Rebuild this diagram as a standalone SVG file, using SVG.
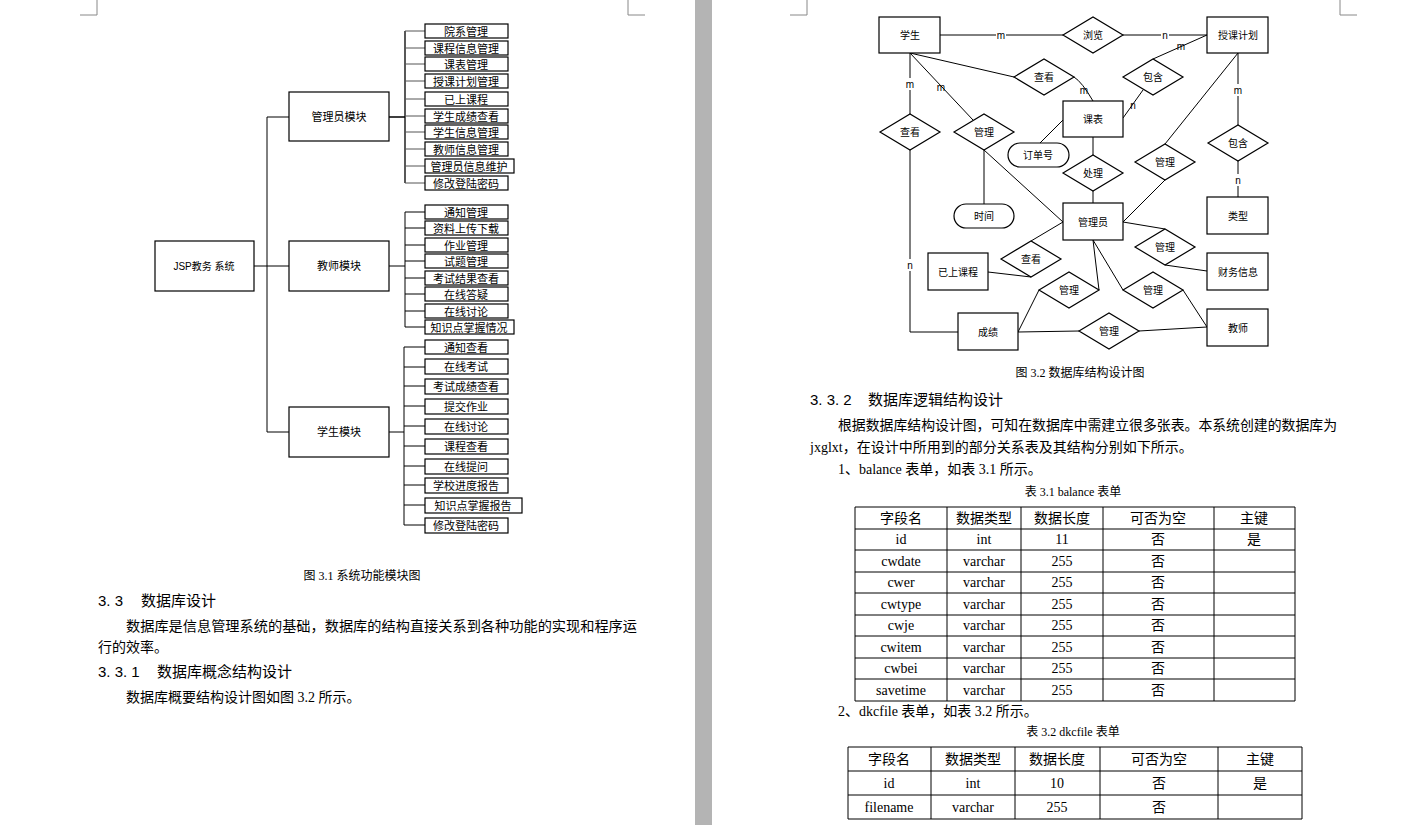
<svg xmlns="http://www.w3.org/2000/svg" width="1405" height="825" viewBox="0 0 1405 825">
<style>
.b{fill:#fff;stroke:#000;stroke-width:1.2}
.l{fill:none;stroke:#000;stroke-width:1}
.t{font-family:"Liberation Sans","Noto Sans CJK SC",sans-serif;font-size:11px;text-anchor:middle;dominant-baseline:central;fill:#000}
.s{font-family:"Liberation Sans","Noto Sans CJK SC",sans-serif;font-size:10px;text-anchor:middle;dominant-baseline:central;fill:#000}
.p{font-family:"Liberation Serif","Noto Sans CJK SC",serif;font-size:14px;fill:#000}
.h{font-family:"Liberation Sans","Noto Sans CJK SC",sans-serif;font-size:15px;fill:#000}
.c{font-family:"Liberation Serif","Noto Sans CJK SC",serif;font-size:12px;text-anchor:middle;fill:#000}
.td{font-family:"Liberation Serif","Noto Sans CJK SC",serif;font-size:14px;text-anchor:middle;dominant-baseline:central;fill:#000}
.g{fill:none;stroke:#888;stroke-width:1}
.lb{fill:#fff;stroke:none}
</style>
<rect width="1405" height="825" fill="#fff"/>
<rect x="695" y="0" width="17" height="825" fill="#b4b4b4"/>
<path class="g" d="M80 15H97V0M645 15H628V0M790 15H807V0M1357 15H1340V0"/>

<g id="tree-connectors" class="l">
<path d="M254 266H289M267 117V432M267 117H289M267 432H289"/>
<path d="M389 117H405M405 31V183" stroke-width="1.3"/>
<path d="M405 31H425M405 48H425M405 64H425M405 81H425M405 99H425M405 116H425M405 132H425M405 149H425M405 166H425M405 183H425" stroke="#555"/>
<path d="M389 266H405M405 212V327"/>
<path d="M405 212H425M405 228H425M405 245H425M405 261H425M405 278H425M405 294H425M405 311H425M405 327H425"/>
<path d="M389 432H404M404 347V525"/>
<path d="M404 347H425M404 367H425M404 386H425M404 406H425M404 426H425M404 446H425M404 466H425M404 485H425M404 505H425M404 525H425"/>
</g>
<g id="root"><rect class="b" x="155" y="241" width="99" height="50"/><text class="s" x="204" y="266">JSP教务 系统</text></g>
<g id="admin"><rect class="b" x="289" y="92" width="100" height="49"/><text class="t" x="339" y="117">管理员模块</text></g>
<g id="teacher"><rect class="b" x="289" y="241" width="100" height="50"/><text class="t" x="339" y="266">教师模块</text></g>
<g id="student"><rect class="b" x="289" y="407" width="100" height="50"/><text class="t" x="339" y="432">学生模块</text></g>
<g id="admin-leaves">
<rect class="b" x="425" y="24" width="83" height="14"/><text class="t" x="466" y="31.5">院系管理</text>
<rect class="b" x="425" y="41" width="83" height="14"/><text class="t" x="466" y="48.5">课程信息管理</text>
<rect class="b" x="425" y="57" width="83" height="14"/><text class="t" x="466" y="64.5">课表管理</text>
<rect class="b" x="425" y="74" width="83" height="14"/><text class="t" x="466" y="81.5">授课计划管理</text>
<rect class="b" x="425" y="92" width="83" height="14"/><text class="t" x="466" y="99.5">已上课程</text>
<rect class="b" x="425" y="109" width="83" height="14"/><text class="t" x="466" y="116.5">学生成绩查看</text>
<rect class="b" x="425" y="125" width="83" height="14"/><text class="t" x="466" y="132.5">学生信息管理</text>
<rect class="b" x="425" y="142" width="83" height="14"/><text class="t" x="466" y="149.5">教师信息管理</text>
<rect class="b" x="425" y="159" width="89" height="14"/><text class="t" x="469" y="166.5">管理员信息维护</text>
<rect class="b" x="425" y="176" width="83" height="14"/><text class="t" x="466" y="183.5">修改登陆密码</text>
</g>
<g id="teacher-leaves">
<rect class="b" x="425" y="205" width="83" height="14"/><text class="t" x="466" y="212.5">通知管理</text>
<rect class="b" x="425" y="221" width="83" height="14"/><text class="t" x="466" y="228.5">资料上传下载</text>
<rect class="b" x="425" y="238" width="83" height="14"/><text class="t" x="466" y="245.5">作业管理</text>
<rect class="b" x="425" y="254" width="83" height="14"/><text class="t" x="466" y="261.5">试题管理</text>
<rect class="b" x="425" y="271" width="83" height="14"/><text class="t" x="466" y="278.5">考试结果查看</text>
<rect class="b" x="425" y="287" width="83" height="14"/><text class="t" x="466" y="294.5">在线答疑</text>
<rect class="b" x="425" y="304" width="83" height="14"/><text class="t" x="466" y="311.5">在线讨论</text>
<rect class="b" x="425" y="320" width="89" height="14"/><text class="t" x="469" y="327.5">知识点掌握情况</text>
</g>
<g id="student-leaves">
<rect class="b" x="425" y="340" width="83" height="14"/><text class="t" x="466" y="347.5">通知查看</text>
<rect class="b" x="425" y="359" width="83" height="15"/><text class="t" x="466" y="367">在线考试</text>
<rect class="b" x="425" y="379" width="83" height="15"/><text class="t" x="466" y="386.5">考试成绩查看</text>
<rect class="b" x="425" y="399" width="83" height="15"/><text class="t" x="466" y="406.5">提交作业</text>
<rect class="b" x="425" y="419" width="83" height="15"/><text class="t" x="466" y="426.5">在线讨论</text>
<rect class="b" x="425" y="439" width="83" height="15"/><text class="t" x="466" y="446.5">课程查看</text>
<rect class="b" x="425" y="459" width="83" height="15"/><text class="t" x="466" y="466.5">在线提问</text>
<rect class="b" x="425" y="478" width="83" height="15"/><text class="t" x="466" y="485.5">学校进度报告</text>
<rect class="b" x="425" y="498" width="97" height="15"/><text class="t" x="473" y="505.5">知识点掌握报告</text>
<rect class="b" x="425" y="518" width="83" height="15"/><text class="t" x="466" y="525.5">修改登陆密码</text>
</g>

<g id="left-text">
<text class="c" x="362" y="580">图 3.1  系统功能模块图</text>
<text class="h" x="98" y="606">3. 3</text><text class="h" x="141" y="606">数据库设计</text>
<text class="p" x="126" y="631" textLength="511" lengthAdjust="spacingAndGlyphs">数据库是信息管理系统的基础，数据库的结构直接关系到各种功能的实现和程序运</text>
<text class="p" x="98" y="652">行的效率。</text>
<text class="h" x="98" y="677">3. 3. 1</text><text class="h" x="157" y="677">数据库概念结构设计</text>
<text class="p" x="126" y="702">数据库概要结构设计图如图 3.2 所示。</text>
</g>

<g id="er-connectors" class="l">
<path d="M940 35H1063M1123 35H1207"/>
<path d="M1207 35L1153 59M1143 90L1123 118"/>
<path d="M910 53L1014 77M1074 77Q1082 82 1093 101"/>
<path d="M910 53V114M910 150V332H958"/>
<path d="M910 53L973 120M984 150V204M984 150L1063 222"/>
<path d="M1063 120L1040 143"/>
<path d="M1093 137V155M1093 191V203"/>
<path d="M1238 53V125M1238 161V197"/>
<path d="M1238 53L1165 144M1165 180L1123 222"/>
<path d="M1123 222L1165 229M1165 265L1207 271"/>
<path d="M1063 222L1031 241M1031 277L988 272"/>
<path d="M1093 240L1099 290M1039 290L1018 332"/>
<path d="M1093 240L1123 290M1183 290L1207 327"/>
<path d="M1018 332L1079 331M1139 331L1207 327"/>
</g>
<g id="er-labels">
<rect class="lb" x="996" y="29" width="10" height="12"/><text class="s" x="1001" y="35">m</text>
<rect class="lb" x="1161" y="29" width="8" height="12"/><text class="s" x="1165" y="35">n</text>
<text class="s" x="1181" y="46">m</text>
<text class="s" x="1133" y="105">n</text>
<text class="s" x="1084" y="90">m</text>
<rect class="lb" x="905" y="78" width="10" height="12"/><text class="s" x="910" y="84">m</text>
<text class="s" x="941" y="87">m</text>
<rect class="lb" x="906" y="259" width="8" height="12"/><text class="s" x="910" y="265">n</text>
<rect class="lb" x="1233" y="84" width="10" height="12"/><text class="s" x="1238" y="90">m</text>
<rect class="lb" x="1234" y="174" width="8" height="12"/><text class="s" x="1238" y="180">n</text>
</g>
<g id="e-student"><rect class="b" x="879" y="17" width="61" height="36"/><text class="s" x="910" y="35">学生</text></g>
<g id="e-plan"><rect class="b" x="1207" y="17" width="61" height="36"/><text class="s" x="1238" y="35">授课计划</text></g>
<g id="e-course"><rect class="b" x="1063" y="101" width="60" height="36"/><text class="s" x="1093" y="119">课表</text></g>
<g id="e-admin"><rect class="b" x="1063" y="203" width="60" height="37"/><text class="s" x="1093" y="222">管理员</text></g>
<g id="e-type"><rect class="b" x="1207" y="197" width="61" height="37"/><text class="s" x="1238" y="216">类型</text></g>
<g id="e-taken"><rect class="b" x="928" y="253" width="60" height="37"/><text class="s" x="958" y="272">已上课程</text></g>
<g id="e-finance"><rect class="b" x="1207" y="253" width="61" height="37"/><text class="s" x="1238" y="272">财务信息</text></g>
<g id="e-score"><rect class="b" x="958" y="313" width="60" height="37"/><text class="s" x="988" y="332">成绩</text></g>
<g id="e-teacher"><rect class="b" x="1207" y="309" width="61" height="37"/><text class="s" x="1238" y="328">教师</text></g>
<g id="a-order"><rect class="b" x="1008" y="143" width="61" height="24" rx="12"/><text class="s" x="1038" y="155">订单号</text></g>
<g id="a-time"><rect class="b" x="954" y="204" width="60" height="24" rx="12"/><text class="s" x="984" y="216">时间</text></g>
<g id="r-browse"><path class="b" d="M1063 35L1093 17L1123 35L1093 53Z"/><text class="s" x="1093" y="35">浏览</text></g>
<g id="r-view1"><path class="b" d="M1014 77L1044 59L1074 77L1044 95Z"/><text class="s" x="1044" y="77">查看</text></g>
<g id="r-contain1"><path class="b" d="M1123 77L1153 59L1183 77L1153 95Z"/><text class="s" x="1153" y="77">包含</text></g>
<g id="r-view2"><path class="b" d="M880 132L910 114L940 132L910 150Z"/><text class="s" x="910" y="132">查看</text></g>
<g id="r-manage1"><path class="b" d="M954 132L984 114L1014 132L984 150Z"/><text class="s" x="984" y="132">管理</text></g>
<g id="r-contain2"><path class="b" d="M1208 143L1238 125L1268 143L1238 161Z"/><text class="s" x="1238" y="143">包含</text></g>
<g id="r-manage2"><path class="b" d="M1135 162L1165 144L1195 162L1165 180Z"/><text class="s" x="1165" y="162">管理</text></g>
<g id="r-process"><path class="b" d="M1063 173L1093 155L1123 173L1093 191Z"/><text class="s" x="1093" y="173">处理</text></g>
<g id="r-manage3"><path class="b" d="M1135 247L1165 229L1195 247L1165 265Z"/><text class="s" x="1165" y="247">管理</text></g>
<g id="r-view3"><path class="b" d="M1001 259L1031 241L1061 259L1031 277Z"/><text class="s" x="1031" y="259">查看</text></g>
<g id="r-manage4"><path class="b" d="M1039 290L1069 272L1099 290L1069 308Z"/><text class="s" x="1069" y="290">管理</text></g>
<g id="r-manage5"><path class="b" d="M1123 290L1153 272L1183 290L1153 308Z"/><text class="s" x="1153" y="290">管理</text></g>
<g id="r-manage6"><path class="b" d="M1079 331L1109 313L1139 331L1109 349Z"/><text class="s" x="1109" y="331">管理</text></g>

<g id="right-text">
<text class="c" x="1080" y="377">图 3.2  数据库结构设计图</text>
<text class="h" x="810" y="405">3. 3. 2</text><text class="h" x="868" y="405">数据库逻辑结构设计</text>
<text class="p" x="838" y="430" textLength="499" lengthAdjust="spacingAndGlyphs">根据数据库结构设计图，可知在数据库中需建立很多张表。本系统创建的数据库为</text>
<text class="p" x="810" y="452">jxglxt，在设计中所用到的部分关系表及其结构分别如下所示。</text>
<text class="p" x="838" y="474">1、balance 表单，如表 3.1 所示。</text>
<text class="c" x="1073" y="496">表 3.1 balance 表单</text>
<text class="p" x="838" y="716">2、dkcfile 表单，如表 3.2 所示。</text>
<text class="c" x="1073" y="736">表 3.2 dkcfile 表单</text>
</g>

<g id="table1">
<path class="l" d="M855 507H1295V701H855ZM947 507V701M1021 507V701M1103 507V701M1214 507V701M855 529H1295M855 550H1295M855 572H1295M855 593H1295M855 615H1295M855 636H1295M855 658H1295M855 679H1295"/>
<g class="td">
<text x="901" y="518">字段名</text><text x="984" y="518">数据类型</text><text x="1062" y="518">数据长度</text><text x="1158" y="518">可否为空</text><text x="1254" y="518">主键</text>
<text x="901" y="539">id</text><text x="984" y="539">int</text><text x="1062" y="539">11</text><text x="1158" y="539">否</text><text x="1254" y="539">是</text>
<text x="901" y="561">cwdate</text><text x="984" y="561">varchar</text><text x="1062" y="561">255</text><text x="1158" y="561">否</text>
<text x="901" y="582">cwer</text><text x="984" y="582">varchar</text><text x="1062" y="582">255</text><text x="1158" y="582">否</text>
<text x="901" y="604">cwtype</text><text x="984" y="604">varchar</text><text x="1062" y="604">255</text><text x="1158" y="604">否</text>
<text x="901" y="625">cwje</text><text x="984" y="625">varchar</text><text x="1062" y="625">255</text><text x="1158" y="625">否</text>
<text x="901" y="647">cwitem</text><text x="984" y="647">varchar</text><text x="1062" y="647">255</text><text x="1158" y="647">否</text>
<text x="901" y="668">cwbei</text><text x="984" y="668">varchar</text><text x="1062" y="668">255</text><text x="1158" y="668">否</text>
<text x="901" y="690">savetime</text><text x="984" y="690">varchar</text><text x="1062" y="690">255</text><text x="1158" y="690">否</text>
</g>
</g>
<g id="table2">
<path class="l" d="M848 747H1302V819H848ZM931 747V819M1015 747V819M1100 747V819M1218 747V819M848 771H1302M848 795H1302"/>
<g class="td">
<text x="889" y="759">字段名</text><text x="973" y="759">数据类型</text><text x="1057" y="759">数据长度</text><text x="1159" y="759">可否为空</text><text x="1260" y="759">主键</text>
<text x="889" y="783">id</text><text x="973" y="783">int</text><text x="1057" y="783">10</text><text x="1159" y="783">否</text><text x="1260" y="783">是</text>
<text x="889" y="807">filename</text><text x="973" y="807">varchar</text><text x="1057" y="807">255</text><text x="1159" y="807">否</text>
</g>
</g>
</svg>
